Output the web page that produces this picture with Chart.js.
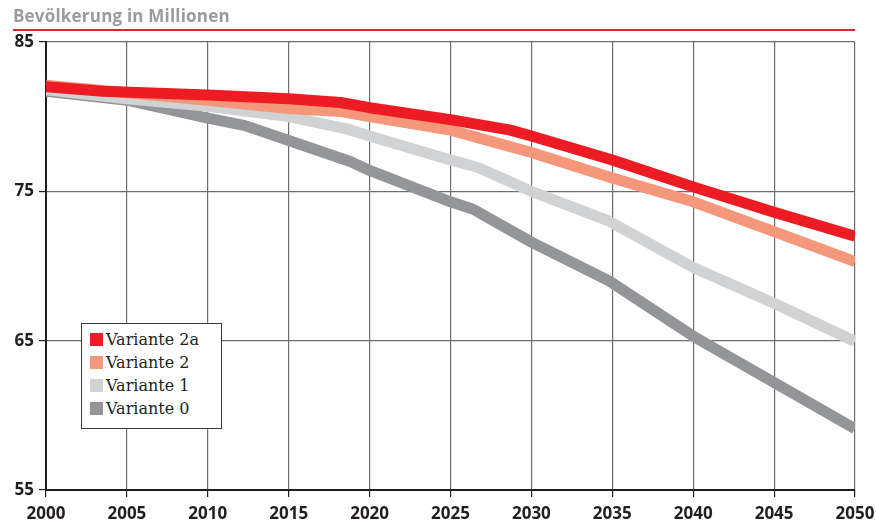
<!DOCTYPE html>
<html>
<head>
<meta charset="utf-8">
<script src="https://cdn.jsdelivr.net/npm/chart.js@4/dist/chart.umd.min.js"></script>
<style>
  html, body { margin: 0; padding: 0; background: #fff; }
  #wrap { position: relative; width: 876px; height: 530px; overflow: hidden; }
  #title { position: absolute; left: 13px; top: 4px; font: bold 17px "Open Sans", sans-serif; color: #9b9b9b; letter-spacing: 0.2px; }
  #rule { position: absolute; left: 13px; top: 29px; width: 842px; height: 0; border-top: 2px solid #e8202a; }
  #legend { position: absolute; left: 81px; top: 323px; width: 139px; height: 104px; border: 1.5px solid #3a3a3a; background: #fff; font: 16px "DejaVu Serif", serif; color: #231f20; }
  .row { position: absolute; left: 8px; height: 20px; line-height: 20px; white-space: nowrap; }
  .sw { display: inline-block; width: 13px; height: 13px; vertical-align: -1px; margin-right: 3px; }
</style>
</head>
<body>
<div id="wrap">
  <canvas id="c" width="876" height="530"></canvas>
  <div id="title">Bevölkerung in Millionen</div>
  <div id="rule"></div>
  <div id="legend"></div>
</div>
<script>
// ---- data ----
const seriesNames = ["Variante 2a", "Variante 2", "Variante 1", "Variante 0"];
const seriesColors = ["#ed1c24", "#f5977b", "#d1d2d4", "#939598"];

const years2a  = [2000, 2003.5, 2010, 2015, 2018.2, 2020, 2025, 2028.7, 2030, 2035, 2040, 2045, 2050];
const values2a = [82.0, 81.7,   81.45, 81.2, 80.95, 80.6, 79.8, 79.1,  78.7, 77.1, 75.3, 73.6, 72.0];

const years2  = [2000, 2005, 2010, 2015, 2018.2, 2020, 2025, 2030, 2035, 2040, 2045, 2050];
const values2 = [82.1, 81.6, 81.1, 80.55, 80.35, 80.0, 79.1, 77.6, 75.9, 74.3, 72.3, 70.3];

const years1  = [2000, 2005, 2010, 2015, 2018.5, 2020, 2025, 2026.7, 2030, 2034.8, 2040, 2045, 2050];
const values1 = [81.8, 81.2, 80.7, 80.0, 79.2,   78.7, 77.1, 76.6,   75.0, 73.0,   69.9, 67.5, 64.95];

const years0  = [2000, 2005, 2010, 2012.3, 2015, 2018.8, 2020, 2025, 2026.4, 2030, 2034.8, 2040, 2045, 2050];
const values0 = [81.7, 81.1, 79.9, 79.4,   78.4, 77.0,   76.4, 74.3, 73.8,   71.6, 69.0,   65.3, 62.2, 59.1];

const yTickValues = [55, 65, 75, 85];
const xTickValues = [2000, 2005, 2010, 2015, 2020, 2025, 2030, 2035, 2040, 2045, 2050];

// ---- build ----
function pts(xs, ys) { return xs.map((x, i) => ({ x: x, y: ys[i] })); }
const allYears = [years2a, years2, years1, years0];
const allValues = [values2a, values2, values1, values0];

const datasets = seriesNames.map((name, i) => ({
  label: name,
  data: pts(allYears[i], allValues[i]),
  borderColor: seriesColors[i],
  backgroundColor: seriesColors[i],
  borderWidth: 11,
  pointRadius: 0,
  tension: 0,
  fill: false,
  borderCapStyle: 'butt',
  borderJoinStyle: 'round'
}));

// HTML legend
const lg = document.getElementById('legend');
seriesNames.forEach((name, i) => {
  const r = document.createElement('div');
  r.className = 'row';
  r.style.top = (6 + i * 23) + 'px';
  r.innerHTML = '<span class="sw" style="background:' + seriesColors[i] + '"></span>' + name;
  lg.appendChild(r);
});

const tickFont = { family: "'Open Sans', sans-serif", size: 17, weight: 'bold' };

new Chart(document.getElementById('c'), {
  type: 'line',
  data: { datasets: datasets },
  options: {
    responsive: false,
    animation: false,
    layout: { padding: { left: 0, top: 42, right: 21, bottom: 0 } },
    plugins: { legend: { display: false }, tooltip: { enabled: false } },
    scales: {
      x: {
        type: 'linear', min: 2000, max: 2050,
        afterBuildTicks: s => { s.ticks = xTickValues.map(v => ({ value: v })); },
        afterFit: s => { s.height = 40; s.paddingLeft = 0; s.paddingRight = 0; },
        ticks: { color: '#231f20', font: tickFont, padding: 7, maxRotation: 0, autoSkip: false,
                 callback: v => String(v) },
        grid: { color: '#6d6e71', lineWidth: 1.2, tickLength: 7, tickColor: '#231f20' },
        border: { display: true, color: '#231f20', width: 2 }
      },
      y: {
        min: 55, max: 85,
        afterBuildTicks: s => { s.ticks = yTickValues.map(v => ({ value: v })); },
        afterFit: s => { s.width = 46; s.paddingTop = 0; s.paddingBottom = 0; },
        ticks: { color: '#231f20', font: tickFont, padding: 5 },
        grid: { color: '#6d6e71', lineWidth: 1.2, tickLength: 7, tickColor: '#231f20' },
        border: { display: true, color: '#231f20', width: 2 }
      }
    }
  }
});
</script>
</body>
</html>
